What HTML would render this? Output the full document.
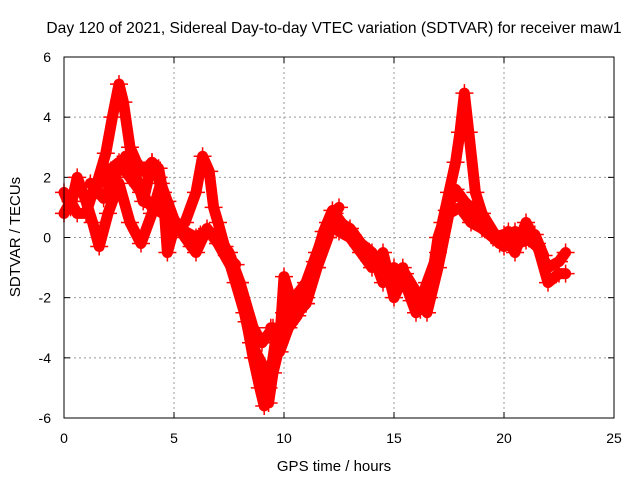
<!DOCTYPE html>
<html><head><meta charset="utf-8"><style>
body{margin:0;background:#fff;}
svg{display:block;font-family:"Liberation Sans",sans-serif;}
</style></head><body>
<svg id="chart" width="640" height="480">
<text x="334" y="33" font-size="15.6" text-anchor="middle">Day 120 of 2021, Sidereal Day-to-day VTEC variation (SDTVAR) for receiver maw1</text>
<text x="334" y="471" font-size="15" text-anchor="middle">GPS time / hours</text>
<text x="20" y="237" font-size="15" text-anchor="middle" transform="rotate(-90 20 237)">SDTVAR / TECUs</text>
<g id="grid"></g><g id="ticks"></g><g id="marks"></g>
<rect x="64" y="57" width="550" height="361" fill="none" stroke="#000" stroke-width="1"/>
</svg>
<script>
const xTicks=[0,5,10,15,20,25];
const yTicks=[-6,-4,-2,0,2,4,6];
const tA=[0,0.3,0.6,1,1.3,1.6,2,2.5,3,3.5,4,4.5,5,5.5,6,6.5,7,7.5,8,8.3,8.6,8.9,9.1,9.3,9.6,10,10.5,11,11.5,12,12.5];
const vA=[0.8,1.2,0.8,0.8,1.5,1.8,2.2,2.5,2,1.5,1,0.8,0.3,0.2,0,0.2,0,-0.5,-1.5,-2.8,-4,-5,-5.6,-5,-3.5,-2.5,-2,-1.5,-0.5,0.5,1];
const tB=[1.5,1.9,2.2,2.5,2.7,3,3.3,3.6,4,4.3,4.5,4.7,5,5.5,6,6.3,6.6,6.8,7,7.3,7.8,8.2,8.5,9,9.3,9.5,10,10.5,11,11.5,12,12.3];
const vB=[1.8,2.8,4,5.1,4.5,3,2.5,2.2,2.5,2.3,1.5,-0.5,0.3,0.5,1.5,2.7,2.2,1,0.5,-0.3,-1.5,-2.5,-3.5,-4.2,-5.5,-4.5,-3,-2.6,-2.2,-1,0,0.8];
const tC=[0,0.3,0.6,1,1.3,1.6,2,2.5,3,3.5,4,4.4,4.7,5,5.5,6,6.5,7,8,8.6,9,9.5,9.8,10,10.5,11,11.5,12];
const vC=[1.5,1,2,1.2,0.5,-0.3,0.8,1.8,0.5,-0.2,0.8,1.8,1.2,0.6,0,-0.5,0.3,-0.2,-1.5,-3,-3.5,-3,-3.5,-1.3,-2.5,-2.2,-1,0];
const tD=[12.5,13,13.5,14,14.5,15,15.5,16,16.5,17,17.2,17.5,17.8,18,18.2,18.4,18.7,19,19.5,20,20.5,21,21.5,22,22.5,22.8];
const vD=[0.5,0.3,-0.2,-0.5,-1.5,-1,-1.5,-2.5,-1.5,-0.5,0.5,1.5,2.5,3.5,4.8,3.5,1.5,0.8,0.2,-0.3,0.2,0,-0.3,-1,-0.8,-0.5];
const tE=[12.5,13,13.5,14,14.5,15,15.5,16,16.5,17,17.5,18,18.5,19,19.5,20,20.5,21,21.5,22,22.5,22.8];
const vE=[0.2,0,-0.5,-1,-0.5,-2,-1.2,-1.8,-2.5,-1,0.8,1,0.5,0.3,0,0.1,-0.5,0.5,-0.2,-1.5,-1.2,-1.2];
const tF=[1.2,1.8,2.3,2.8,3.2,3.6,4,4.3,4.6,5,5.4,5.8,6.2,6.6,7,7.4,7.8];
const vF=[1.8,1.3,2.0,2.7,2.2,1.2,2.5,2.0,0.8,0.6,0.2,-0.3,0.1,0.2,0.0,-0.6,-0.9];
const tG=[9.4,9.8,10.2,10.6,11,11.4,11.8,12.2,12.6,13,13.4,13.8,14.2,14.6,15,15.4,15.8,16.2,16.6,17,17.4,17.8,18.2,18.6,19,19.4,19.8,20.2,20.6,21,21.4,21.8];
const vG=[-3.0,-3.8,-3.0,-2.6,-2.0,-0.8,0.2,0.9,0.5,0.2,-0.2,-0.7,-0.9,-1.2,-1.6,-1.0,-2.1,-2.4,-2.0,0.0,0.9,1.6,1.2,0.9,0.6,0.1,-0.2,0.2,-0.2,-0.1,0.1,-0.6];
const series=[[tA,vA],[tB,vB],[tC,vC],[tD,vD],[tE,vE],[tF,vF],[tG,vG]];
const NS="http://www.w3.org/2000/svg";
const X=t=>64+t*(550/25), Y=v=>237.5-v*(361/12);
const g=document.getElementById('grid'),tk=document.getElementById('ticks'),m=document.getElementById('marks');
function mk(tag,a,p){const e=document.createElementNS(NS,tag);for(const k in a)e.setAttribute(k,a[k]);p.appendChild(e);return e;}
xTicks.forEach(t=>{
 if(t>0&&t<25){const l=mk('line',{x1:X(t),x2:X(t),y1:57,y2:418,stroke:'#999','stroke-dasharray':'2,3'},g);
 
 }
 mk('line',{x1:X(t),x2:X(t),y1:418,y2:412,stroke:'#000'},tk);
 mk('line',{x1:X(t),x2:X(t),y1:57,y2:63,stroke:'#000'},tk);
 const s=mk('text',{x:X(t),y:443,'font-size':14,'text-anchor':'middle'},tk);s.textContent=t;
 
 
});
yTicks.forEach(v=>{
 if(v>-6&&v<6){const l=mk('line',{x1:64,x2:614,y1:Y(v),y2:Y(v),stroke:'#999','stroke-dasharray':'2,3'},g);
 
 }
 mk('line',{x1:64,x2:70,y1:Y(v),y2:Y(v),stroke:'#000'},tk);
 mk('line',{x1:608,x2:614,y1:Y(v),y2:Y(v),stroke:'#000'},tk);
 const s=mk('text',{x:51,y:Y(v)+5,'font-size':14,'text-anchor':'end'},tk);s.textContent=v;
 
 
});
series.forEach((s,i)=>{
 const d=s[0].map((t,j)=>(j?'L':'M')+X(t)+','+Y(s[1][j])).join('');
 const p=mk('path',{d:d,fill:'none',stroke:'#f00','stroke-width':11,'stroke-linejoin':'round','stroke-linecap':'round'},m);
 
 
 s[0].forEach((t,j)=>{
  const x=X(t),y=Y(s[1][j]);
  const c=mk('path',{d:`M${x-9},${y}H${x+9}M${x},${y-9}V${y+9}`,stroke:'#f00','stroke-width':1.5},m);
  
  
 });
});
</script>
</body></html>
